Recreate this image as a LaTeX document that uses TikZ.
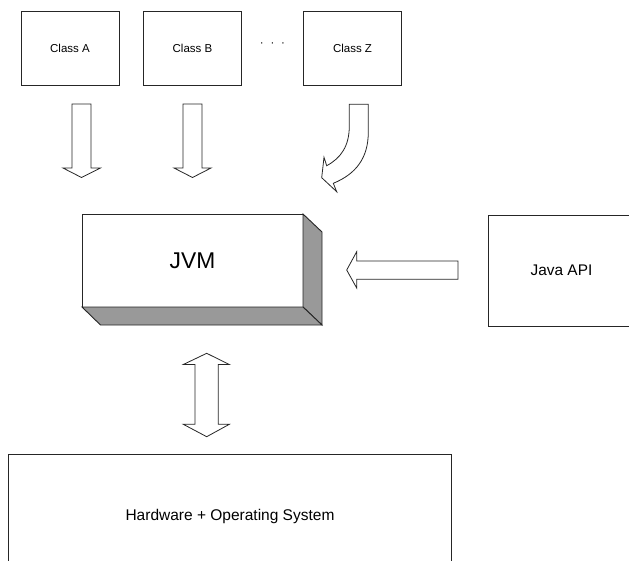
\documentclass[tikz,border=0pt]{standalone}
\usepackage{fontspec}
\setmainfont{Liberation Sans}
\usetikzlibrary{calc}

\definecolor{edge}{gray}{0.15}
\definecolor{shade}{RGB}{153,153,153}

\tikzset{
  box/.style={draw=edge, line width=0.9pt, fill=white, rectangle,
    inner sep=0pt, outer sep=0pt, align=center},
  blockarrow/.style={draw=edge, line width=0.8pt, fill=white, line join=miter},
  face/.style={draw=edge, line width=0.9pt, fill=shade, line join=miter},
}

\begin{document}
\begin{tikzpicture}[x=1pt, y=-1pt]
  \useasboundingbox (0,0) rectangle (629,560);

  % class files
  \node[box, minimum width=98pt, minimum height=73.5pt,
        font=\fontsize{11.5}{13}\selectfont] (ca) at (70,48.5) {Class A};
  \node[box, minimum width=98pt, minimum height=73.5pt,
        font=\fontsize{11.5}{13}\selectfont] (cb) at (192.5,48.5) {Class B};
  \node[box, minimum width=98pt, minimum height=73.5pt,
        font=\fontsize{11.5}{13}\selectfont] (cz) at (352.5,48.5) {Class Z};
  \node[inner sep=0pt, font=\fontsize{11.5}{13}\selectfont] (dots) at (272.5,44.3)
        {·\hspace{6.8pt}·\hspace{6.8pt}·};

  % straight arrows below Class A and Class B
  \draw[blockarrow] (72,104) -- (91,104) -- (91,168) -- (100.5,168) -- (81.5,177.5)
        -- (63,168) -- (72,168) -- cycle;
  \draw[blockarrow] (183,104) -- (202,104) -- (202,168) -- (211,168) -- (192.5,177.5)
        -- (174,168) -- (183,168) -- cycle;

  % bent arrow below Class Z
  \draw[blockarrow] (349.3,104.3) -- (368.3,104.3) -- (368.3,132)
        .. controls (368.3,158) and (356,174) .. (333.3,183.3)
        -- (336.7,191.7) -- (321.7,177.7) -- (324,157.3) -- (326.7,165.7)
        .. controls (341,158) and (349.3,146) .. (349.3,126) -- cycle;

  % JVM block with its side and bottom faces
  \node[box, minimum width=221pt, minimum height=93pt,
        font=\fontsize{22.8}{26}\selectfont] (jvm) at (192.5,260.5) {JVM};
  \draw[face] (jvm.north east) -- ++(19,18) -- ($(jvm.south east)+(19,18)$)
        -- (jvm.south east) -- cycle;
  \draw[face] (jvm.south west) -- (jvm.south east) -- ++(19,18)
        -- ($(jvm.south west)+(18.5,18)$) -- cycle;

  % Java API
  \node[box, minimum width=147pt, minimum height=111pt,
        font=\fontsize{15.4}{18}\selectfont] (api) at (561.5,270.5) {Java API};

  % arrow from the API towards the JVM
  \draw[blockarrow] (458,261) -- (458,279.3) -- (356.7,279.3) -- (356.7,288)
        -- (346.7,270) -- (356.7,251.7) -- (356.7,261) -- cycle;

  % two-way arrow between the JVM and the platform
  \draw[blockarrow] (206.7,353.3) -- (229.3,364.5) -- (218.3,364.5) -- (218.3,424.3)
        -- (229.3,424.3) -- (206.7,436.7) -- (183.3,424.3) -- (195,424.3)
        -- (195,364.5) -- (183.3,364.5) -- cycle;

  % hardware and operating system
  \node[box, minimum width=443.4pt, minimum height=124pt,
        font=\fontsize{15.5}{18}\selectfont] (hw) at (230,516.3)
        {Hardware + Operating System};
\end{tikzpicture}
\end{document}
